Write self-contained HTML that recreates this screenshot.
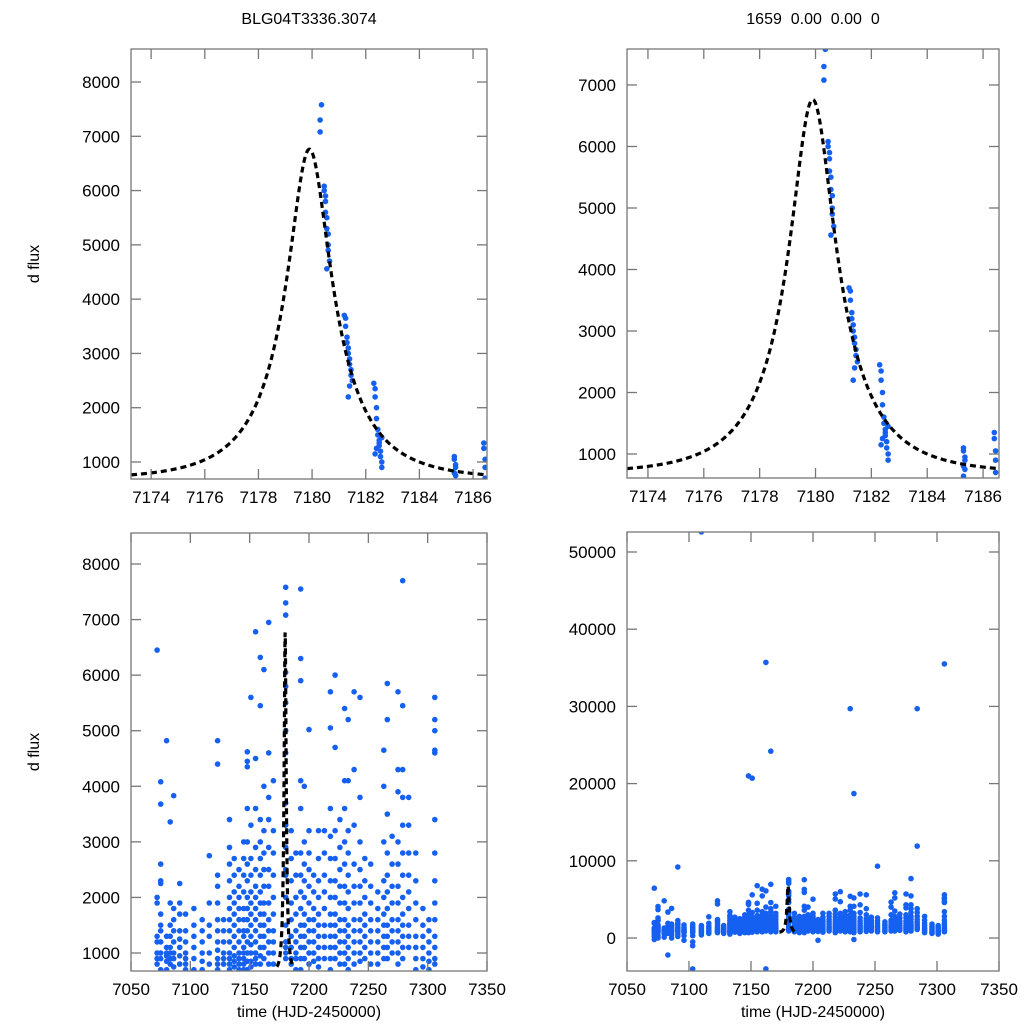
<!DOCTYPE html>
<html><head><meta charset="utf-8"><style>
html,body{margin:0;padding:0;background:#fff;overflow:hidden;width:1024px;height:1024px;}
svg{display:block;font-family:"Liberation Sans",sans-serif;}
</style></head><body>
<svg id="chart" width="1024" height="1024" viewBox="0 0 1024 1024" xmlns="http://www.w3.org/2000/svg">
<rect width="1024" height="1024" fill="#fff"/>
<text x="309" y="24" font-size="16" text-anchor="middle">BLG04T3336.3074</text>
<text x="813" y="24" font-size="16" text-anchor="middle" xml:space="preserve">1659  0.00  0.00  0</text>
</svg>
<script>
// ---- zoomed event data (top panels) ----
const zoomTimes = [7180.35,7180.3,7180.3,7180.45,7180.45,7180.5,7180.5,7180.5,7180.55,7180.55,7180.6,7180.6,7180.6,7180.65,7180.55,
 7181.2,7181.25,7181.25,7181.3,7181.3,7181.35,7181.35,7181.4,7181.4,7181.45,7181.45,7181.5,7181.4,7181.35,
 7182.3,7182.35,7182.35,7182.4,7182.4,7182.45,7182.45,7182.5,7182.5,7182.55,7182.55,7182.6,7182.6,7182.4,7182.5,7182.6,7182.35,
 7185.3,7185.3,7185.35,7185.35,7185.3,7185.35,7185.3,
 7186.4,7186.4,7186.45,7186.45,7186.45];
const zoomFlux = [7580,7300,7080,6080,6000,5900,5800,5600,5500,5300,5200,5000,4900,4700,4560,
 3700,3650,3500,3300,3200,3100,3000,2900,2800,2700,2600,2500,2400,2200,
 2450,2350,2200,2000,1800,1600,1500,1400,1300,1200,1100,1000,900,1250,1350,1450,1150,
 1100,1050,950,900,800,750,640,
 1350,1250,1050,900,700];
// ---- full season data (bottom panels) ----
const nightTimes = [7072,7075,7080,7083,7086,7091,7096,7103,7110,7116,7123,7128,7133,7137,7141,7145,7148,7151,7155,7159,7162,7166,7170,7180.4,7185,7189,7193,7196,7200,7204,7208,7213,7218,7222,7226,7230,7233,7238,7243,7247,7252,7258,7263,7266,7270,7275,7279,7284,7290,7296,7301,7306];
const nightFlux = [
 [6450,2000,1900,1300,1200,1000,900,800,600,400,200,-200],
 [4080,3680,2600,2300,2250,1700,1500,1400,1200,1000,900,700,300,0],
 [4820,1300,1100,1000,950,850,700,500,100],
 [3360,1900,1500,1300,1100,1000,900,800,600,-2200],
 [3830,1800,1600,1400,1200,1000,900,750,400,0],
 [9200,2250,1900,1700,1400,1250,1100,950,800,500,200],
 [1700,1400,1200,1000,900,800,700,300,-300],
 [1800,1500,1300,1100,900,700,300,-500,-1000,-4000],
 [52600,1600,1400,1200,1000,850,700,400],
 [2750,1900,1500,1300,1000,800,600],
 [4820,4400,2400,2200,1900,1600,1400,1200,1050,900,800,700],
 [1600,1400,1200,1000,900,800,600],
 [3400,2900,2600,2300,2000,1800,1600,1400,1200,1000,900,800,700,500],
 [2700,2400,2100,1900,1700,1500,1300,1100,950,850,750],
 [2500,2200,2000,1800,1600,1400,1200,1000,900,800,700,600],
 [3000,2700,2400,2100,1800,1600,1400,1300,1100,1000,900,800,700],
 [21000,4620,4450,4350,3600,3000,2600,2300,2000,1800,1600,1400,1200,1000,850,700],
 [20700,5600,3300,2700,2400,2100,1900,1700,1500,1300,1150,1000,850,750],
 [6780,4500,3600,2900,2500,2200,2000,1800,1600,1400,1200,1000,900,800],
 [5450,6320,3400,3000,2700,2400,2100,1900,1700,1500,1300,1100,950,800],
 [35700,6100,4000,3200,2800,2500,2200,1900,1700,1500,1300,1100,900,-4000],
 [24200,6950,4600,3800,3400,2900,2500,2200,1900,1600,1400,1200,1000,800],
 [4100,3200,2800,2400,2000,1700,1400,1200,1000,800],
 [7580,7300,7080,6050,5800,5500,5000,4600,3700,3300,2900,2500,2400,2000,1500,1200,1000,1100,900],
 [3200,2700,2300,1900,1600,1300,1100,900,800],
 [2800,2400,2000,1700,1400,1200,1000,900,700],
 [7550,6300,5900,4100,3600,2800,2400,2100,1800,1500,1300,1100,900,700],
 [4000,3000,2600,2300,2000,1700,1500,1300,1100,900],
 [5020,3200,2800,2500,2200,1900,1600,1400,1200,1000,800],
 [2400,2100,1800,1600,1400,1200,1000,850,-300],
 [3200,2700,2300,2000,1700,1500,1300,1100,900,750],
 [3200,2800,2400,2100,1800,1500,1300,1100,900],
 [5700,5050,3600,3100,2700,2300,2000,1700,1500,1300,1100,900,700],
 [6000,4700,3200,2700,2300,2000,1700,1500,1300,1100,900],
 [3400,2900,2500,2200,1900,1600,1400,1200,1000,800],
 [29700,5400,4100,3600,3000,2600,2200,1900,1600,1400,1200,1000,800],
 [18700,5200,4100,3200,2800,2400,2100,1800,1500,1300,1100,900,700,-200],
 [5700,4300,3300,2600,2200,1900,1600,1400,1200,1000,800],
 [5600,3800,3000,2500,2200,1900,1600,1400,1200,1000,850],
 [2700,2300,2000,1700,1500,1300,1100,900],
 [9300,2600,2200,1900,1600,1400,1200,1000,800],
 [2100,1800,1600,1400,1200,1000,800],
 [4650,4000,3000,2300,2000,1700,1500,1300,1100,900],
 [5850,5200,3500,2800,2400,2100,1800,1500,1300,1100,900],
 [3100,2600,2200,1900,1600,1400,1200,1000],
 [5700,4300,3900,3000,2600,2200,1900,1600,1400,1200,1000,800],
 [7700,5450,4300,3800,3300,2800,2400,2000,1700,1500,1300,1100,900],
 [29700,11900,3800,3300,2800,2400,2100,1800,1500,1300,1100],
 [2800,2300,1900,1600,1300,1100,900,700],
 [1800,1500,1300,1100,900,750,600],
 [1600,1400,1200,1000,850,700,500],
 [35500,5600,5200,5000,4650,4600,3400,2800,2300,1900,1600,1300,1100,900,800]
];
// ---- microlensing model parameters ----
const modelT0 = [7179.9];
const modelU0 = [0.3];
const modelTE = [2.75];
const modelBase = [680];
const modelScale = [2488];
// ---- tick labels ----
const zoomXTicks = [7174,7176,7178,7180,7182,7184,7186];
const fullXTicks = [7050,7100,7150,7200,7250,7300,7350];
const tlYTicks = [1000,2000,3000,4000,5000,6000,7000,8000];
const trYTicks = [1000,2000,3000,4000,5000,6000,7000];
const blYTicks = [1000,2000,3000,4000,5000,6000,7000,8000];
const brYTicks = [0,10000,20000,30000,40000,50000];

const NS = 'http://www.w3.org/2000/svg';
const svg = document.getElementById('chart');
function mk(tag, attrs, parent){const e=document.createElementNS(NS,tag);for(const k in attrs)e.setAttribute(k,attrs[k]);(parent||svg).appendChild(e);return e;}
function model(t){const u=Math.sqrt(modelU0[0]*modelU0[0]+Math.pow((t-modelT0[0])/modelTE[0],2));const A=(u*u+2)/(u*Math.sqrt(u*u+4));return modelBase[0]+modelScale[0]*(A-1);}

function panel(id, box, xd, yd, xt, yt, pts, curveRange, xlabel, ylabel){
  const sx=v=>box.x0+(v-xd[0])/(xd[1]-xd[0])*(box.x1-box.x0);
  const sy=v=>box.y1-(v-yd[0])/(yd[1]-yd[0])*(box.y1-box.y0);
  const g=mk('g',{});
  
  
  const cp=mk('clipPath',{id:id+'-clip'},g);
  mk('rect',{x:box.x0,y:box.y0,width:box.x1-box.x0,height:box.y1-box.y0},cp);
  const pg=mk('g',{'clip-path':'url(#'+id+'-clip)'},g);
  
  
  const ylo=yd[0]-(yd[1]-yd[0])*0.01, yhi=yd[1]+(yd[1]-yd[0])*0.01;
  pts.forEach(p=>{
    if(p[1]<ylo||p[1]>yhi||p[0]<xd[0]||p[0]>xd[1]) return;
    const c=mk('circle',{cx:sx(p[0]).toFixed(1),cy:sy(p[1]).toFixed(1),r:2.8,fill:'#1560f0'},pg);
    
    });
  let d='';const n=600;
  for(let i=0;i<=n;i++){const t=curveRange[0]+(curveRange[1]-curveRange[0])*i/n;d+=(i?'L':'M')+sx(t).toFixed(2)+','+sy(model(t)).toFixed(2);}
  const cl=mk('path',{d:d,fill:'none',stroke:'#000','stroke-width':3.2,'stroke-dasharray':'6,4'},pg);
  
  
  const fr=mk('rect',{x:box.x0,y:box.y0,width:box.x1-box.x0,height:box.y1-box.y0,fill:'none',stroke:'#777','stroke-width':1.3},g);
  
  
  xt.forEach(v=>{const x=sx(v);
    mk('line',{x1:x,x2:x,y1:box.y1,y2:box.y1-10,stroke:'#777','stroke-width':1.3},g);
    mk('line',{x1:x,x2:x,y1:box.y0,y2:box.y0+10,stroke:'#777','stroke-width':1.3},g);
    const t=mk('text',{x:x,y:box.y1+24,'font-size':17,'text-anchor':'middle'},g);t.textContent=v;
    
    });
  yt.forEach(v=>{const y=sy(v);
    mk('line',{x1:box.x0,x2:box.x0+10,y1:y,y2:y,stroke:'#777','stroke-width':1.3},g);
    mk('line',{x1:box.x1,x2:box.x1-10,y1:y,y2:y,stroke:'#777','stroke-width':1.3},g);
    const t=mk('text',{x:box.x0-11,y:y+6,'font-size':17,'text-anchor':'end'},g);t.textContent=v;
    
    });
  if(xlabel){const t=mk('text',{x:(box.x0+box.x1)/2,y:box.y1+46,'font-size':16,'text-anchor':'middle'},g);t.textContent=xlabel;
    
    }
  if(ylabel){const cy=(box.y0+box.y1)/2;const t=mk('text',{x:39,y:cy,'font-size':16,'text-anchor':'middle',transform:'rotate(-90 39 '+cy+')'},g);t.textContent=ylabel;
    
    }
}
const zoomPts=zoomTimes.map((t,i)=>[t,zoomFlux[i]]);
const fullPts=[];nightTimes.forEach((t,i)=>nightFlux[i].forEach(f=>fullPts.push([t,f])));
panel('top-left',{x0:131,x1:487,y0:49,y1:479},[7173.25,7186.52],[687,8608],zoomXTicks,tlYTicks,zoomPts,[7173.25,7186.52],null,'d flux');
panel('top-right',{x0:627,x1:999,y0:49,y1:478},[7173.25,7186.57],[610,7585],zoomXTicks,trYTicks,zoomPts,[7173.25,7186.57],null,null);
panel('bottom-left',{x0:131,x1:487,y0:533,y1:971},[7050,7350],[676,8558],fullXTicks,blYTicks,fullPts,[7173,7187],'time (HJD-2450000)','d flux');
panel('bottom-right',{x0:627,x1:999,y0:532,y1:971},[7050,7350],[-4275,52590],fullXTicks,brYTicks,fullPts,[7173,7187],'time (HJD-2450000)',null);
</script>
</body></html>
